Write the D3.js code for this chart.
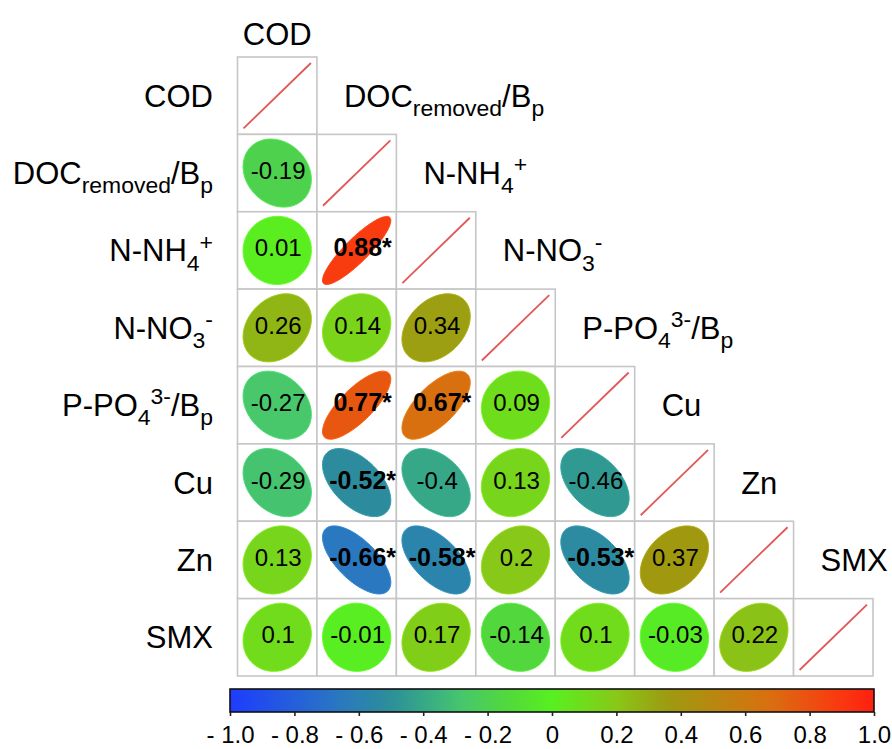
<!DOCTYPE html>
<html>
<head>
<meta charset="utf-8">
<script src="https://cdn.jsdelivr.net/npm/d3@7/dist/d3.min.js"></script>
<style>
  html, body { margin: 0; padding: 0; background: #fff; }
  svg { display: block; }
  text { font-family: "Liberation Sans", Arial, sans-serif; fill: #000; }
</style>
</head>
<body>
<svg id="chart" width="892" height="749"></svg>
<script>
// Variable names, written as runs of [text, style] so sub/superscripts render.
const variables = [
  [["COD", ""]],
  [["DOC", ""], ["removed", "sub"], ["/B", ""], ["p", "sub"]],
  [["N-NH", ""], ["4", "sub"], ["+", "sup"]],
  [["N-NO", ""], ["3", "sub"], ["-", "sup"]],
  [["P-PO", ""], ["4", "sub"], ["3-", "sup"], ["/B", ""], ["p", "sub"]],
  [["Cu", ""]],
  [["Zn", ""]],
  [["SMX", ""]]
];

// Lower-triangle Pearson coefficients, one array per row (row i has i entries).
const corrRows = [
  [],
  [-0.19],
  [0.01, 0.88],
  [0.26, 0.14, 0.34],
  [-0.27, 0.77, 0.67, 0.09],
  [-0.29, -0.52, -0.4, 0.13, -0.46],
  [0.13, -0.66, -0.58, 0.2, -0.53, 0.37],
  [0.1, -0.01, 0.17, -0.14, 0.1, -0.03, 0.22]
];

// Significance flags (p < 0.05), same shape as corrRows.
const sigRows = [
  [],
  [false],
  [false, true],
  [false, false, false],
  [false, true, true, false],
  [false, true, false, false, false],
  [false, true, true, false, true, false],
  [false, false, false, false, false, false, false]
];

const colorbarTicks = [-1, -0.8, -0.6, -0.4, -0.2, 0, 0.2, 0.4, 0.6, 0.8, 1];
// Diverging palette: blue -> teal -> green -> olive -> orange -> red
const colorStops  = [-1, -0.66, -0.5, -0.4, -0.27, -0.14, 0, 0.2, 0.35, 0.67, 0.88, 1];
const colorValues = ["#1e3cff", "#2a78c0", "#2c8f98", "#36a888", "#48c86a", "#52d83c",
                     "#58f020", "#88c818", "#9c9c10", "#d87010", "#f83c10", "#ff2010"];

const svg = d3.select("#chart");
const n = variables.length;

const gridLeft = 237.5, gridRight = 873, gridTop = 57, gridBottom = 676;
const x = d3.scaleBand().domain(d3.range(n)).range([gridLeft, gridRight]).padding(0);
const y = d3.scaleBand().domain(d3.range(n)).range([gridTop, gridBottom]).padding(0);
const color = d3.scaleLinear().domain(colorStops).range(colorValues).clamp(true);

const cw = x.bandwidth(), ch = y.bandwidth();

// Writes a label made of runs with sub/superscript handling.
function writeRuns(textSel, runs, size) {
  let prevShift = 0;
  runs.forEach(([str, kind]) => {
    const t = textSel.append("tspan").text(str);
    const shift = kind === "sub" ? size * 0.3 : kind === "sup" ? -size * 0.38 : 0;
    const dy = shift - prevShift;
    if (dy !== 0) t.attr("dy", dy);
    if (kind) t.attr("font-size", size * 0.74);
    prevShift = shift;
  });
}

const labelSize = 31;

// Cell frames (lower triangle including the diagonal)
const cells = [];
for (let i = 0; i < n; i++) for (let j = 0; j <= i; j++) cells.push({ i, j });

svg.append("g").selectAll("rect").data(cells).join("rect")
  .attr("x", d => x(d.j)).attr("y", d => y(d.i))
  .attr("width", cw).attr("height", ch)
  .attr("fill", "#fff").attr("stroke", "#c6c6c6").attr("stroke-width", 1.6);

// Diagonal: red reference line
svg.append("g").selectAll("line").data(d3.range(n)).join("line")
  .attr("x1", i => x(i) + 6).attr("y1", i => y(i) + ch - 6)
  .attr("x2", i => x(i) + cw - 6).attr("y2", i => y(i) + 6)
  .attr("stroke", "#e05858").attr("stroke-width", 1.8);

// Ellipses
const offDiag = [];
corrRows.forEach((row, i) => row.forEach((r, j) => offDiag.push({ i, j, r, sig: sigRows[i][j] })));

const sx = cw * 0.43, sy = ch * 0.44;
function ellipsePath(d) {
  const cx = x(d.j) + cw / 2, cy = y(d.i) + ch / 2;
  const dd = Math.acos(d.r);
  const pts = d3.range(0, 2 * Math.PI, Math.PI / 60).map(t => [
    cx + Math.cos(t + dd / 2) * sx,
    cy - Math.cos(t - dd / 2) * sy
  ]);
  return d3.line().curve(d3.curveLinearClosed)(pts);
}

svg.append("g").selectAll("path").data(offDiag).join("path")
  .attr("d", ellipsePath)
  .attr("fill", d => color(d.r))
  .attr("stroke", d => d3.color(color(d.r)).brighter(0.3))
  .attr("stroke-width", 1);

// Coefficient labels
svg.append("g").selectAll("text").data(offDiag).join("text")
  .attr("x", d => x(d.j) + cw / 2 + (d.sig ? 6 : 1))
  .attr("y", d => y(d.i) + ch / 2 + 6)
  .attr("text-anchor", "middle")
  .attr("font-size", d => d.sig ? 25 : 24)
  .attr("font-weight", d => d.sig ? "bold" : "normal")
  .text(d => String(d.r) + (d.sig ? "*" : ""));

// Row labels, right-aligned to the left of the grid
variables.forEach((runs, i) => {
  const t = svg.append("text")
    .attr("x", 213).attr("y", y(i) + ch / 2 + 11)
    .attr("text-anchor", "end").attr("font-size", labelSize);
  writeRuns(t, runs, labelSize);
});

// Column labels, set beside each diagonal cell
variables.forEach((runs, j) => {
  const t = svg.append("text").attr("font-size", labelSize);
  if (j === 0) {
    t.attr("x", x(0) + cw / 2).attr("y", gridTop - 12).attr("text-anchor", "middle");
  } else {
    t.attr("x", x(j) + 27).attr("y", y(j - 1) + ch / 2 + 11).attr("text-anchor", "start");
  }
  writeRuns(t, runs, labelSize);
});

// Colour bar
const cbLeft = 230, cbRight = 874, cbTop = 689, cbHeight = 23;
const cbScale = d3.scaleLinear().domain([-1, 1]).range([cbLeft, cbRight]);
const defs = svg.append("defs");
const grad = defs.append("linearGradient").attr("id", "cbGrad")
  .attr("x1", "0%").attr("x2", "100%").attr("y1", "0%").attr("y2", "0%");
d3.range(0, 1.0001, 0.02).forEach(f => {
  grad.append("stop").attr("offset", (f * 100) + "%").attr("stop-color", color(-1 + 2 * f));
});
svg.append("rect")
  .attr("x", cbLeft).attr("y", cbTop).attr("width", cbRight - cbLeft).attr("height", cbHeight)
  .attr("fill", "url(#cbGrad)").attr("stroke", "#111").attr("stroke-width", 1.6);

const fmt = v => v === 0 ? "0" : (v < 0 ? "- " + Math.abs(v).toFixed(1) : v.toFixed(1));
const cbAxis = d3.axisBottom(cbScale).tickValues(colorbarTicks).tickSize(4).tickPadding(10).tickFormat(fmt);
const axisG = svg.append("g").attr("transform", `translate(0,${cbTop + cbHeight})`).call(cbAxis);
axisG.select(".domain").remove();
axisG.selectAll(".tick line").attr("stroke", "#222").attr("stroke-width", 1.6);
axisG.selectAll(".tick text")
  .attr("font-family", "Liberation Sans, Arial, sans-serif")
  .attr("font-size", 24).attr("fill", "#000");
</script>
</body>
</html>
